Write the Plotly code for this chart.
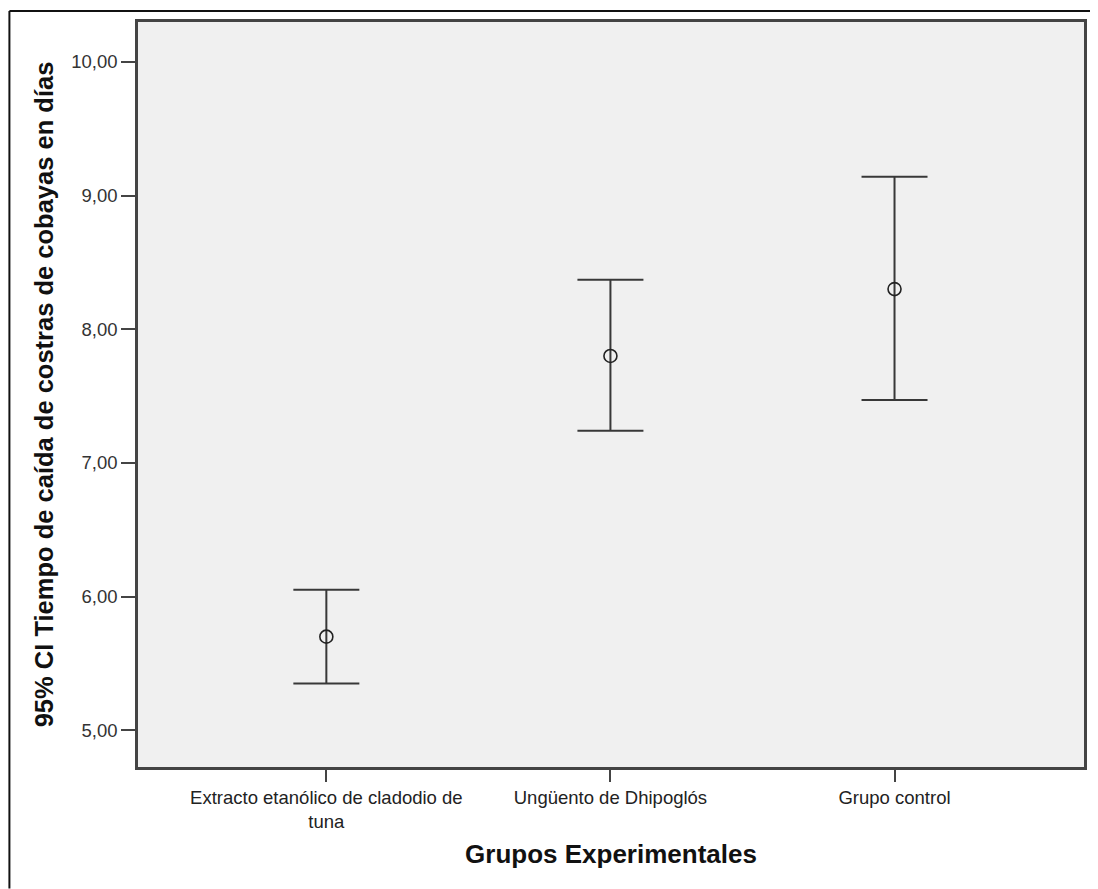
import plotly.graph_objects as go

groups = ["Extracto etanólico de cladodio de<br>tuna", "Ungüento de Dhipoglós", "Grupo control"]
means = [5.70, 7.80, 8.30]
ci_upper = [6.05, 8.37, 9.14]
ci_lower = [5.35, 7.24, 7.47]

x_pos = [0, 1, 2]
err_plus = [u - m for u, m in zip(ci_upper, means)]
err_minus = [m - l for m, l in zip(means, ci_lower)]

# page body has an 8px margin in the browser
W, H = 1090, 881
ml, mr, mt, mb = 130, 11, 11, 122

fig = go.Figure()
fig.add_trace(go.Scatter(
    x=x_pos, y=means, mode="markers",
    marker=dict(symbol="circle-open", size=13, color="#222222", line=dict(width=1.6, color="#222222")),
    error_y=dict(type="data", symmetric=False, array=err_plus, arrayminus=err_minus,
                 color="#383838", thickness=2, width=33),
    showlegend=False, hoverinfo="skip",
))

pw = W - ml - mr
ph = H - mt - mb
fig.update_layout(
    width=W, height=H,
    margin=dict(l=ml, r=mr, t=mt, b=mb, pad=0),
    paper_bgcolor="white", plot_bgcolor="#F0F0F0",
    separators=",.",
    font=dict(family="Arial, Liberation Sans, sans-serif", color="#222222"),
    xaxis=dict(
        range=[-0.663, 2.667], tickmode="array", tickvals=x_pos, ticktext=groups,
        showgrid=False, zeroline=False, showline=True, linecolor="#444444", linewidth=2.5,
        mirror=True, ticks="outside", ticklen=12, tickwidth=2, tickcolor="#444444",
        tickfont=dict(size=18.5, color="#222222"),
        title=dict(text="<b>Grupos Experimentales</b>", font=dict(size=26, color="#111111"), standoff=14),
    ),
    yaxis=dict(
        range=[4.725, 10.298], tickvals=[5, 6, 7, 8, 9, 10], tickformat=".2f",
        showgrid=False, zeroline=False, showline=True, linecolor="#444444", linewidth=2.5,
        mirror=True, ticks="outside", ticklen=14, tickwidth=2, tickcolor="#444444",
        tickfont=dict(size=18.5, color="#333333"),
        title=dict(text="<b>95% CI Tiempo de caída de costras de cobayas en días</b>",
                   font=dict(size=25.5, color="#111111"), standoff=11),
    ),
    shapes=[
        dict(type="line", xref="paper", yref="paper",
             x0=(1 - ml) / pw, x1=(W - ml) / pw, y0=1 + (mt - 0) / ph, y1=1 + (mt - 0) / ph,
             line=dict(color="#111111", width=2)),
        dict(type="line", xref="paper", yref="paper",
             x0=(1 - ml) / pw, x1=(1 - ml) / pw, y0=1 + (mt - 0) / ph, y1=-mb / ph,
             line=dict(color="#111111", width=2)),
    ],
)

fig.write_html("out.html")
